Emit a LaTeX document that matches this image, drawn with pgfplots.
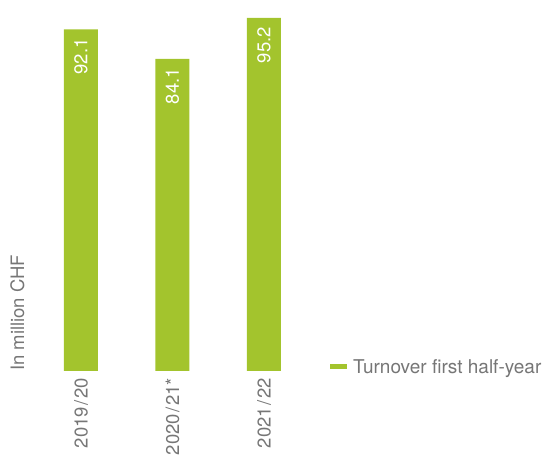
\documentclass[border=0pt]{standalone}
\usepackage{fontspec}
\setmainfont{TeX Gyre Heros}
\usepackage{pgfplots}
\pgfplotsset{compat=1.18}
\definecolor{bargreen}{HTML}{A3C42D}
\definecolor{txtgray}{HTML}{767676}
\newcommand{\chfont}{\fontsize{18.5}{21}\selectfont}
\newcommand{\yrsl}{\kern1.5pt/\kern1.5pt}
\begin{document}
\begin{tikzpicture}
\path[use as bounding box] (-35.25pt,-86pt) rectangle (506.75pt,371pt);
\begin{axis}[
  at={(0pt,0pt)}, anchor=south west,
  scale only axis, width=274.5pt, height=371pt,
  ybar, bar width=34pt,
  xmin=-0.5, xmax=2.5, ymin=0, ymax=100,
  enlargelimits=false,
  axis line style={draw=none},
  major tick length=0pt,
  ytick=\empty,
  xtick={0,1,2},
  xticklabels={2019\yrsl20,2020\yrsl21*,2021\yrsl22},
  xticklabel style={rotate=90, anchor=east, font=\chfont, text=txtgray, inner sep=0pt, xshift=-7pt},
  ylabel={In million CHF},
  ylabel style={at={(axis description cs:-0.061,0)}, anchor=west, inner sep=0pt, font=\chfont, text=txtgray, yshift=1pt},
  /pgf/number format/assume math mode=true,
  /pgf/number format/fixed, /pgf/number format/precision=1,
  nodes near coords,
  nodes near coords style={yshift=-9pt, rotate=90, anchor=east, inner sep=0pt, font=\chfont, text=white},
  legend style={draw=none, fill=none, at={(axis description cs:1,0)}, anchor=west, xshift=20.25pt, yshift=4pt, font=\fontsize{19}{21}\selectfont, text=txtgray, inner sep=0pt, nodes={inner sep=0pt}},
  legend image code/.code={\fill[bargreen] (0pt,-2.5pt) rectangle (17pt,2.5pt); \path (23pt,0pt);},
]
\addplot[fill=bargreen, draw=none] coordinates {(0,92.1) (1,84.1) (2,95.2)};
\addlegendentry{Turnover first half-year}
\end{axis}
\end{tikzpicture}
\end{document}
